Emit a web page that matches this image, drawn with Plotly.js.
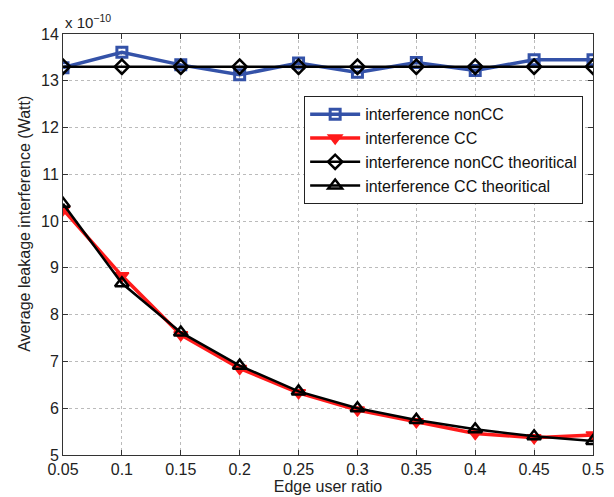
<!DOCTYPE html>
<html>
<head>
<meta charset="utf-8">
<script src="https://cdn.plot.ly/plotly-3.0.1.min.js"></script>
<style>html,body{margin:0;padding:0;background:#fff;}#chart{width:614px;height:497px;}</style>
</head>
<body>
<div id="chart"></div>
<script>
var edgeRatio = [0.05, 0.1, 0.15, 0.2, 0.25, 0.3, 0.35, 0.4, 0.45, 0.5];
var nonCC = [13.28, 13.61, 13.34, 13.13, 13.38, 13.18, 13.39, 13.22, 13.45, 13.45];
var cc = [10.25, 8.83, 7.57, 6.85, 6.33, 5.96, 5.71, 5.46, 5.37, 5.43];
var nonCCTheory = [13.30, 13.30, 13.30, 13.30, 13.30, 13.30, 13.30, 13.30, 13.30, 13.30];
var ccTheory = [10.37, 8.67, 7.62, 6.91, 6.36, 6.00, 5.75, 5.55, 5.40, 5.30];
var xTicks = [0.05, 0.1, 0.15, 0.2, 0.25, 0.3, 0.35, 0.4, 0.45, 0.5];
var xTickText = ['0.05', '0.1', '0.15', '0.2', '0.25', '0.3', '0.35', '0.4', '0.45', '0.5'];
var yTicks = [5, 6, 7, 8, 9, 10, 11, 12, 13, 14];
var seriesNames = ['interference nonCC', 'interference CC', 'interference nonCC theoritical', 'interference CC theoritical'];

var font = '"Liberation Sans", Arial, Helvetica, sans-serif';
var traces = [
  {x: edgeRatio, y: nonCC, name: seriesNames[0], mode: 'lines+markers',
   line: {color: '#3452a8', width: 3.5},
   marker: {symbol: 'square-open', size: 10, color: '#3452a8', line: {width: 3, color: '#3452a8'}}},
  {x: edgeRatio, y: cc, name: seriesNames[1], mode: 'lines+markers',
   line: {color: '#ff1a1a', width: 3.5},
   marker: {symbol: 'triangle-down', size: 12, color: '#ff1a1a', line: {width: 1.5, color: '#ff1a1a'}}},
  {x: edgeRatio, y: nonCCTheory, name: seriesNames[2], mode: 'lines+markers',
   line: {color: '#000000', width: 2.5},
   marker: {symbol: 'diamond-open', size: 11, color: '#000000', line: {width: 2.5, color: '#000000'}}},
  {x: edgeRatio, y: ccTheory, name: seriesNames[3], mode: 'lines+markers',
   line: {color: '#000000', width: 2.5},
   marker: {symbol: 'triangle-up-open', size: 12, color: '#000000', line: {width: 2.5, color: '#000000'}}}
];

var layout = {
  width: 614, height: 497,
  margin: {l: 63, r: 21, t: 34, b: 42},
  paper_bgcolor: '#ffffff', plot_bgcolor: '#ffffff',
  font: {family: font, size: 16, color: '#222'},
  showlegend: true,
  legend: {x: 0.455, y: 0.852, xanchor: 'left', yanchor: 'top',
    bordercolor: '#222', borderwidth: 1, bgcolor: '#ffffff', itemwidth: 50,
    font: {family: font, size: 16, color: '#111'}, tracegroupgap: 0},
  xaxis: {range: [0.05, 0.5], tickvals: xTicks, ticktext: xTickText,
    showgrid: true, gridcolor: '#bbbbbb', griddash: 'dot', gridwidth: 1,
    zeroline: false, showline: true, linecolor: '#333', linewidth: 1, mirror: 'allticks',
    ticks: 'inside', ticklen: 5, tickcolor: '#333',
    tickfont: {family: font, size: 16, color: '#222'},
    title: {text: 'Edge user ratio', font: {family: font, size: 16, color: '#222'}, standoff: 0}},
  yaxis: {range: [5, 14], tickvals: yTicks,
    showgrid: true, gridcolor: '#bbbbbb', griddash: 'dot', gridwidth: 1,
    zeroline: false, showline: true, linecolor: '#333', linewidth: 1, mirror: 'allticks',
    ticks: 'inside', ticklen: 5, tickcolor: '#333',
    tickfont: {family: font, size: 16, color: '#222'}},
  annotations: [
    {xref: 'paper', yref: 'paper', x: 0, y: 1, xanchor: 'left', yanchor: 'bottom',
     yshift: 1, showarrow: false, text: 'x 10<sup>−10</sup>', font: {family: font, size: 15, color: '#222'}},
    {xref: 'paper', yref: 'paper', x: 0, y: 0.549, xanchor: 'center', yanchor: 'middle',
     xshift: -38, showarrow: false, textangle: -90, text: 'Average leakage interference (Watt)',
     font: {family: font, size: 16, color: '#222'}}
  ]
};

Plotly.newPlot('chart', traces, layout, {displayModeBar: false, staticPlot: true});
</script>
</body>
</html>
